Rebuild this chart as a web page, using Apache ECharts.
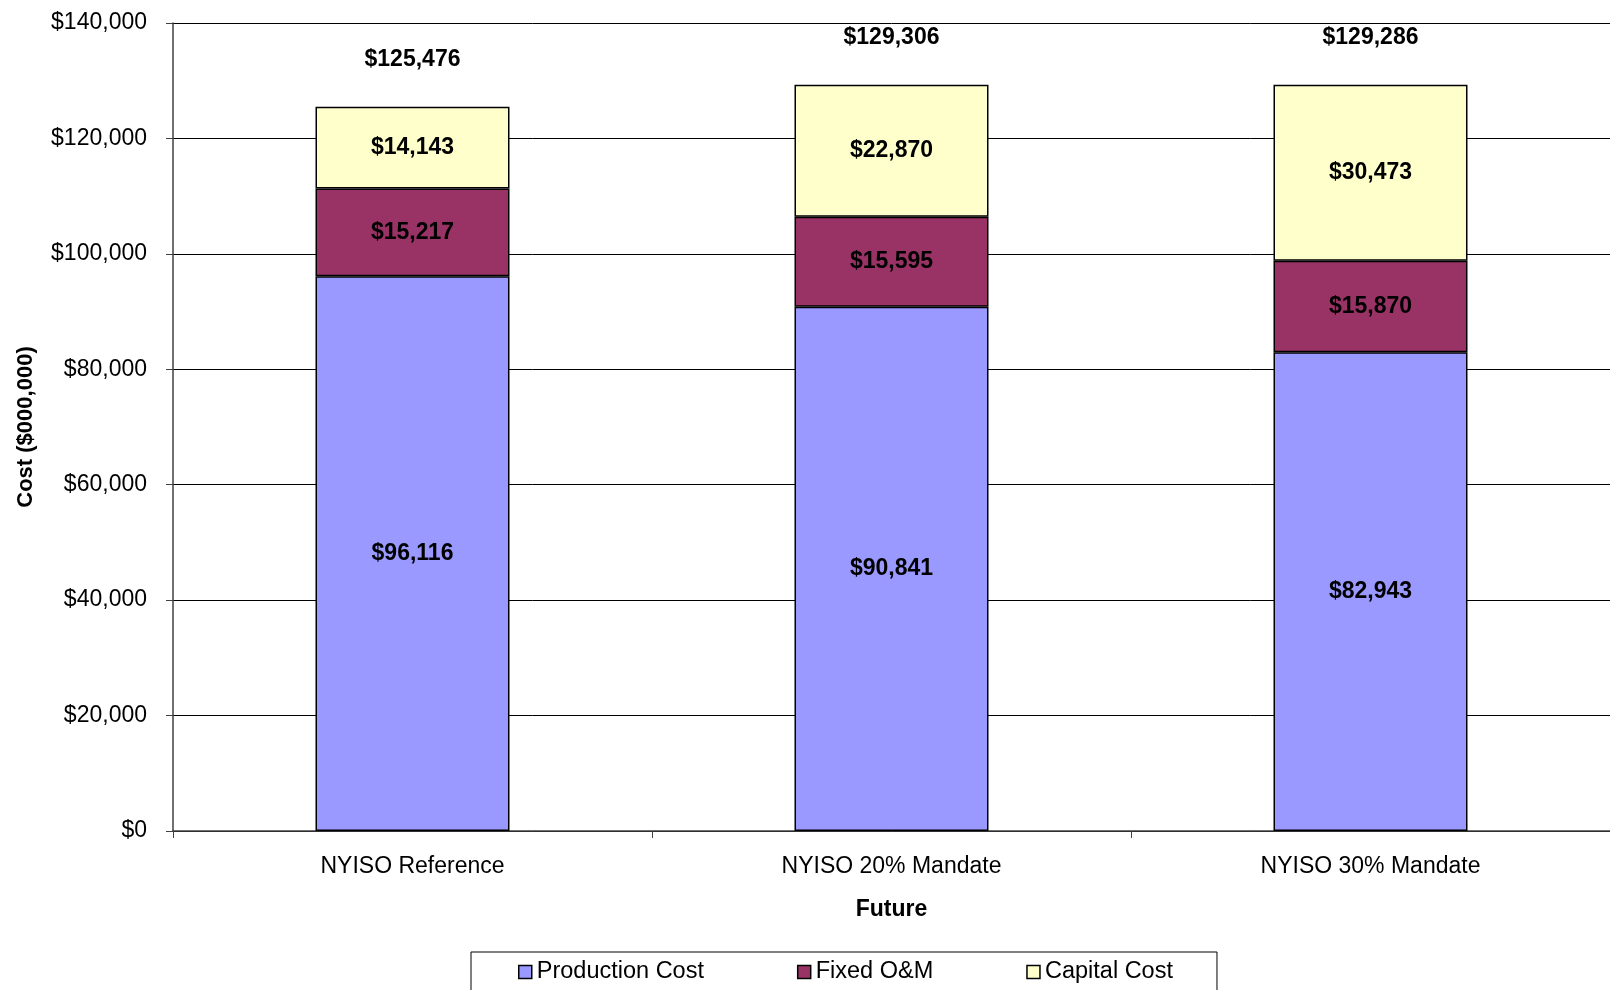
<!DOCTYPE html>
<html>
<head>
<meta charset="utf-8">
<script src="https://cdn.jsdelivr.net/npm/echarts@6/dist/echarts.min.js"></script>
<style>
html,body{margin:0;padding:0;background:#fff;}
#chart{width:1610px;height:990px;}
</style>
</head>
<body>
<div id="chart"></div>
<script>
const categories = ['NYISO Reference', 'NYISO 20% Mandate', 'NYISO 30% Mandate'];
const productionCost = [96116, 90841, 82943];
const fixedOM = [15217, 15595, 15870];
const capitalCost = [14143, 22870, 30473];
const totals = [125476, 129306, 129286];
const yTicks = { min: 0, max: 140000, interval: 20000 };

const FONT = '"Liberation Sans", Arial, sans-serif';
const fmt = v => '$' + Math.round(v).toLocaleString('en-US');

const chart = echarts.init(document.getElementById('chart'), null, { renderer: 'canvas' });

const segLabel = {
  show: true,
  position: 'inside',
  fontFamily: FONT,
  fontSize: 23,
  fontWeight: 'bold',
  color: '#000',
  formatter: p => fmt(p.value)
};

function barSeries(name, data, color) {
  return {
    name: name,
    type: 'bar',
    stack: 'cost',
    barWidth: '40.5%',
    data: data,
    itemStyle: { color: color, borderColor: '#000', borderWidth: 1.5 },
    label: segLabel,
    emphasis: { disabled: true }
  };
}

chart.setOption({
  animation: false,
  backgroundColor: '#fff',
  grid: { left: 173, right: 0, top: 23, bottom: 159, containLabel: false },
  legend: {
    data: ['Production Cost', 'Fixed O&M', 'Capital Cost'],
    left: 471,
    top: 952,
    padding: [8, 44, 30, 47],
    itemGap: 93,
    itemWidth: 13,
    itemHeight: 13,
    borderColor: '#000',
    borderWidth: 1,
    textStyle: { fontFamily: FONT, fontSize: 23.5, color: '#000' },
    icon: 'rect',
    itemStyle: { borderColor: '#000', borderWidth: 1.5 }
  },
  xAxis: {
    type: 'category',
    data: categories,
    name: 'Future',
    nameLocation: 'middle',
    nameGap: 67,
    nameTextStyle: { fontFamily: FONT, fontSize: 23, fontWeight: 'bold', color: '#000' },
    axisLine: { lineStyle: { color: '#404040', width: 1.5 } },
    axisTick: { show: true, length: 7, lineStyle: { color: '#404040' } },
    axisLabel: { fontFamily: FONT, fontSize: 23, color: '#000', margin: 24 },
    splitLine: { show: false }
  },
  yAxis: {
    type: 'value',
    min: yTicks.min,
    max: yTicks.max,
    interval: yTicks.interval,
    name: 'Cost ($000,000)',
    nameLocation: 'middle',
    nameRotate: 90,
    nameGap: 136,
    nameTextStyle: { fontFamily: FONT, fontSize: 22, fontWeight: 'bold', color: '#000' },
    axisLine: { show: true, lineStyle: { color: '#404040', width: 1.5 } },
    axisTick: { show: true, length: 7, lineStyle: { color: '#404040' } },
    axisLabel: { fontFamily: FONT, fontSize: 23, color: '#000', margin: 26, formatter: v => fmt(v) },
    splitLine: { show: true, lineStyle: { color: '#000', width: 1 } }
  },
  series: [
    barSeries('Production Cost', productionCost, '#9999FF'),
    barSeries('Fixed O&M', fixedOM, '#993366'),
    barSeries('Capital Cost', capitalCost, '#FFFFCC'),
    {
      name: 'Total',
      type: 'scatter',
      data: totals,
      symbolSize: 0,
      silent: true,
      z: 5,
      itemStyle: { opacity: 1 },
      label: {
        show: true,
        position: 'top',
        distance: 36,
        fontFamily: FONT,
        fontSize: 23,
        fontWeight: 'bold',
        color: '#000',
        opacity: 1,
        formatter: p => fmt(p.value)
      }
    }
  ]
});
</script>
</body>
</html>
